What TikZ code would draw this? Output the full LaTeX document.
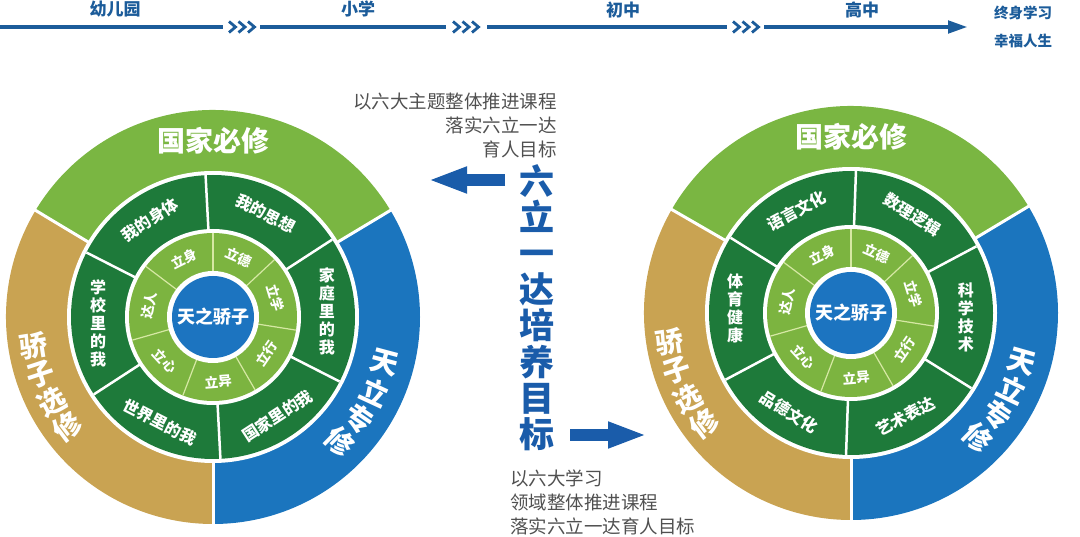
\documentclass[tikz,border=0pt]{standalone}
\usepackage{fontspec}
\setmainfont{Noto Sans CJK SC}
\usetikzlibrary{arrows.meta}

\definecolor{ringgreen}{RGB}{122,182,66}
\definecolor{ringblue}{RGB}{27,117,190}
\definecolor{ringgold}{RGB}{201,163,82}
\definecolor{darkgreen}{RGB}{30,122,58}
\definecolor{lightgreen}{RGB}{124,180,64}
\definecolor{palegreen}{RGB}{214,232,164}
\definecolor{coreblue}{RGB}{28,116,192}
\definecolor{lineblue}{RGB}{28,92,154}
\definecolor{titleblue}{RGB}{26,92,170}
\definecolor{greytext}{RGB}{80,80,80}

\tikzset{
  timeline/.style={lineblue, line width=4.5pt},
  chevron/.style={lineblue, line width=2.8pt},
  stage/.style={text=lineblue, inner sep=0pt, font=\bfseries\fontsize{17}{17}\selectfont},
  endstage/.style={stage, font=\bfseries\fontsize{14.5}{14.5}\selectfont},
  gap/.style={white, line width=3pt},
  thinline/.style={palegreen, line width=1.2pt},
  ringlabel/.style={text=white, inner sep=0pt, font=\bfseries\fontsize{28}{28}\selectfont},
  midlabel/.style={text=white, inner sep=0pt, align=center, font=\bfseries\fontsize{16}{18}\selectfont},
  innerlabel/.style={text=white, inner sep=0pt, font=\bfseries\fontsize{13.5}{14}\selectfont},
  corelabel/.style={text=white, inner sep=0pt, font=\bfseries\fontsize{18}{18}\selectfont},
  goal/.style={text=titleblue, inner sep=0pt, align=center, font=\bfseries\fontsize{35}{36.2}\selectfont},
  note/.style={text=greytext, inner sep=0pt, font=\fontsize{18.5}{24}\selectfont},
  bigarrow/.style={titleblue, line width=12pt, -{Triangle[length=39pt, width=24pt]}}
}

\begin{document}
\begin{tikzpicture}[x=1pt, y=1pt]
\useasboundingbox (0,0) rectangle (1080,536);

% timeline
\coordinate (t0) at (0,509);
\coordinate (t1) at (223,509);
\coordinate (t2) at (260,509);
\coordinate (t3) at (446,509);
\coordinate (t4) at (487,509);
\coordinate (t5) at (727,509);
\coordinate (t6) at (764,509);
\coordinate (t7) at (968,509);
\draw[timeline] (t0) -- (t1);
\draw[timeline] (t2) -- (t3);
\draw[timeline] (t4) -- (t5);
\draw[timeline, -{Triangle[length=20pt, width=12pt]}] (t6) -- (t7);
\foreach \x in {229,453,733}
  \foreach \k in {0,1,2}
    \draw[chevron] (\x+9.5*\k, 514.5) -- ++(6.5,-5.5) -- ++(-6.5,-5.5);
\node[stage] (kinder) at (115,527) {幼儿园};
\node[stage] (primary) at (358,527) {小学};
\node[stage] (junior) at (623,526) {初中};
\node[stage] (senior) at (862,526) {高中};
\node[endstage] (lifelong) at (1023,523) {终身学习};
\node[endstage] (happy) at (1023,495) {幸福人生};

% left wheel
\begin{scope}[shift={(213,219)}]
  \fill[ringgreen] (0,0) -- (31:207) arc[start angle=31, end angle=149, radius=207] -- cycle;
  \fill[ringgold] (0,0) -- (149:207) arc[start angle=149, end angle=270, radius=207] -- cycle;
  \fill[ringblue] (0,0) -- (270:207) arc[start angle=270, end angle=391, radius=207] -- cycle;
  \foreach \a in {31,149,270}
    \draw[gap] (0,0) -- (\a:208);
  \fill[white] (0,0) circle[radius=146];
  \fill[darkgreen] (0,0) circle[radius=142];
  \foreach \a in {33,93,...,333}
    \draw[gap, line width=2.5pt] (0,0) -- (\a:142);
  \fill[white] (0,0) circle[radius=88];
  \fill[lightgreen] (0,0) circle[radius=84];
  \foreach \a in {90,43,-9,-60,-111,-164,143}
    \draw[thinline] (0,0) -- (\a:84);
  \fill[white] (0,0) circle[radius=46];
  \fill[coreblue] (0,0) circle[radius=41];
  \node[corelabel] (l-core) at (0,0) {天之骄子};
  % outer ring
  \node[ringlabel] (l-national) at (90:176) {国家必修};
  \foreach \ch/\a [count=\i] in {骄/189,子/198.3,选/207.7,修/217}
    \node[ringlabel, rotate=\a-180] (l-elective\i) at (\a:182) {\ch};
  \foreach \ch/\a [count=\i] in {天/-15,立/-24.8,专/-34.7,修/-44.5}
    \node[ringlabel, rotate=\a] (l-special\i) at (\a:178) {\ch};
  % six themes
  \node[midlabel, rotate=33] (l-body) at (123:116) {我的身体};
  \node[midlabel, rotate=-27] (l-mind) at (63:116) {我的思想};
  \node[midlabel] (l-family) at (3:114) {家\\庭\\里\\的\\我};
  \node[midlabel, rotate=33] (l-country) at (-57:118) {国家里的我};
  \node[midlabel, rotate=-27] (l-world) at (243:118) {世界里的我};
  \node[midlabel] (l-school) at (183:115) {学\\校\\里\\的\\我};
  % seven goals
  \foreach \t/\a/\r [count=\i] in {立德/66.5/-23.5, 立学/17/-73, 立行/-34.5/55.5, 立异/-85.5/4.5, 立心/-137.5/-47.5, 达人/169.5/79.5, 立身/116.5/26.5}
    \node[innerlabel, rotate=\r] (l-goal\i) at (\a:65) {\t};
\end{scope}

% right wheel
\begin{scope}[shift={(851,223)}]
  \fill[ringgreen] (0,0) -- (31:207) arc[start angle=31, end angle=150, radius=207] -- cycle;
  \fill[ringgold] (0,0) -- (150:207) arc[start angle=150, end angle=270, radius=207] -- cycle;
  \fill[ringblue] (0,0) -- (270:207) arc[start angle=270, end angle=391, radius=207] -- cycle;
  \foreach \a in {31,150,270}
    \draw[gap] (0,0) -- (\a:208);
  \fill[white] (0,0) circle[radius=146];
  \fill[darkgreen] (0,0) circle[radius=142];
  \foreach \a in {28,88,...,328}
    \draw[gap, line width=2.5pt] (0,0) -- (\a:142);
  \fill[white] (0,0) circle[radius=88];
  \fill[lightgreen] (0,0) circle[radius=84];
  \foreach \a in {90,43,-9,-60,-111,-164,143}
    \draw[thinline] (0,0) -- (\a:84);
  \fill[white] (0,0) circle[radius=46];
  \fill[coreblue] (0,0) circle[radius=41];
  \node[corelabel] (r-core) at (0,0) {天之骄子};
  % outer ring
  \node[ringlabel] (r-national) at (90:176) {国家必修};
  \foreach \ch/\a [count=\i] in {骄/189,子/198.3,选/207.7,修/217}
    \node[ringlabel, rotate=\a-180] (r-elective\i) at (\a:184) {\ch};
  \foreach \ch/\a [count=\i] in {天/-16,立/-25.5,专/-35,修/-44.5}
    \node[ringlabel, rotate=\a] (r-special\i) at (\a:178) {\ch};
  % six fields
  \node[midlabel, rotate=28] (r-language) at (118:116) {语言文化};
  \node[midlabel, rotate=-32] (r-logic) at (58:116) {数理逻辑};
  \node[midlabel] (r-science) at (-2:115) {科\\学\\技\\术};
  \node[midlabel, rotate=28] (r-art) at (-62:117) {艺术表达};
  \node[midlabel, rotate=-32] (r-moral) at (238:117) {品德文化};
  \node[midlabel] (r-health) at (178:116) {体\\育\\健\\康};
  % seven goals
  \foreach \t/\a/\r [count=\i] in {立德/66.5/-23.5, 立学/17/-73, 立行/-34.5/55.5, 立异/-85.5/4.5, 立心/-137.5/-47.5, 达人/169.5/79.5, 立身/116.5/26.5}
    \node[innerlabel, rotate=\r] (r-goal\i) at (\a:65) {\t};
\end{scope}

% middle
\node[goal] (goal) at (537,228.5) {六\\立\\一\\达\\培\\养\\目\\标};
\node[note, align=right, anchor=east] (note-top) at (557,411) {以六大主题整体推进课程\\落实六立一达\\育人目标};
\node[note, align=left, anchor=west] (note-bottom) at (510,34) {以六大学习\\领域整体推进课程\\落实六立一达育人目标};
\coordinate (la-start) at (505,356);
\coordinate (la-end) at (428,356);
\coordinate (ra-start) at (570,101);
\coordinate (ra-end) at (647,101);
\draw[bigarrow] (la-start) -- (la-end);
\draw[bigarrow] (ra-start) -- (ra-end);
\end{tikzpicture}
\end{document}
